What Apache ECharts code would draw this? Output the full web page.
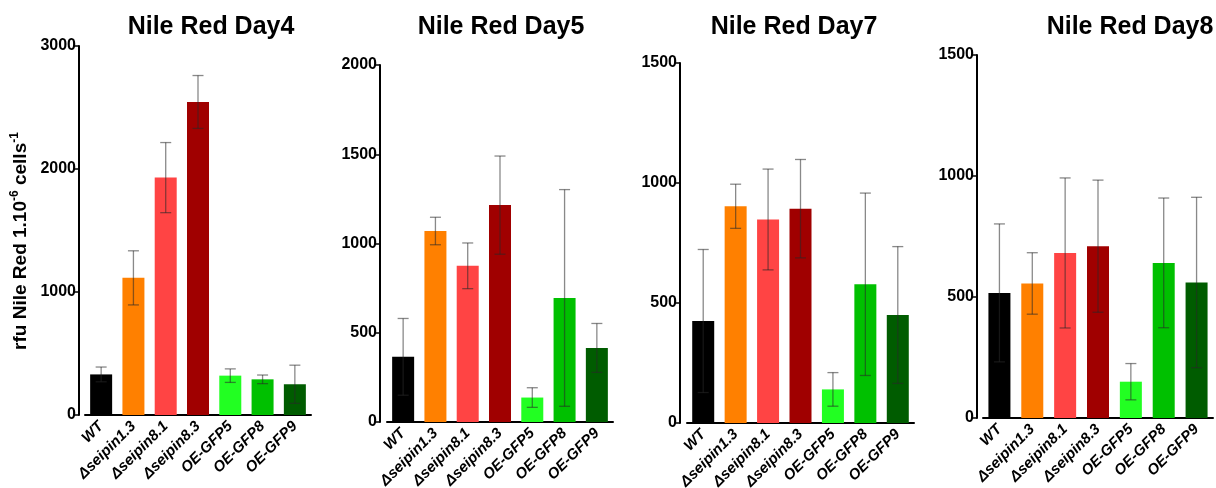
<!DOCTYPE html>
<html>
<head>
<meta charset="utf-8">
<script src="https://cdn.jsdelivr.net/npm/echarts@6/dist/echarts.min.js"></script>
<style>
  html, body { margin: 0; padding: 0; background: #fff; }
  #chart { width: 1216px; height: 488px; }
</style>
</head>
<body>
<div id="chart"></div>
<script>
const categories = ["WT", "Δseipin1.3", "Δseipin8.1", "Δseipin8.3", "OE-GFP5", "OE-GFP8", "OE-GFP9"];
const barColors = ["#000000", "#FF8000", "#FF4444", "#A00000", "#22FF22", "#00C000", "#005C00"];

const titles = ["Nile Red Day4", "Nile Red Day5", "Nile Red Day7", "Nile Red Day8"];
const yMax = [3000, 2000, 1500, 1500];
const yInterval = [1000, 500, 500, 500];

const day4Mean = [330, 1115, 1930, 2545, 320, 290, 250];
const day4Err = [60, 220, 285, 215, 55, 35, 155];
const day5Mean = [365, 1070, 875, 1215, 137, 695, 415];
const day5Err = [215, 77, 128, 275, 55, 607, 137];
const day7Mean = [425, 903, 848, 893, 140, 578, 450];
const day7Err = [298, 92, 210, 205, 70, 380, 285];
const day8Mean = [517, 556, 682, 710, 150, 641, 560];
const day8Err = [285, 127, 310, 273, 75, 268, 352];

const means = [day4Mean, day5Mean, day7Mean, day8Mean];
const errs = [day4Err, day5Err, day7Err, day8Err];

// panel layout
const panels = [
  { left: 85, width: 226, top: 46, height: 369, offset: 6, titleX: 211 },
  { left: 387, width: 226, top: 65, height: 357, offset: 7, titleX: 501 },
  { left: 687, width: 227, top: 63, height: 360, offset: 7, titleX: 794 },
  { left: 983, width: 230, top: 55, height: 363, offset: 6, titleX: 1130 }
];

const font = "Liberation Sans, Arial, sans-serif";

function errorBarRender(params, api) {
  const x = api.value(0);
  const m = api.value(1);
  const e = api.value(2);
  const top = api.coord([x, m + e]);
  const bot = api.coord([x, m - e]);
  const hw = 5.5;
  const style = { stroke: "rgba(40,40,40,0.55)", lineWidth: 1.3 };
  return {
    type: "group",
    children: [
      { type: "line", shape: { x1: top[0], y1: top[1], x2: bot[0], y2: bot[1] }, style: style },
      { type: "line", shape: { x1: top[0] - hw, y1: top[1], x2: top[0] + hw, y2: top[1] }, style: style },
      { type: "line", shape: { x1: bot[0] - hw, y1: bot[1], x2: bot[0] + hw, y2: bot[1] }, style: style }
    ]
  };
}

let option = {
  backgroundColor: "#ffffff",
  animation: false,
  grid: [],
  xAxis: [],
  yAxis: [],
  series: [],
  graphic: [
    {
      type: "text",
      x: 21,
      y: 241,
      rotation: Math.PI / 2,
      style: {
        text: "{a|rfu Nile Red 1.10}{b|-6}{a| cells}{b|-1}",
        align: "center",
        verticalAlign: "middle",
        fill: "#000",
        rich: {
          a: { fontSize: 19, fontWeight: "bold", fontFamily: font, fill: "#000", lineHeight: 24 },
          b: { fontSize: 12, fontWeight: "bold", fontFamily: font, fill: "#000", verticalAlign: "top", lineHeight: 24 }
        }
      }
    }
  ]
};

panels.forEach((p, k) => {
  option.graphic.push({
    type: "text",
    x: p.titleX,
    y: 27,
    style: {
      text: titles[k],
      align: "center",
      verticalAlign: "middle",
      fill: "#000",
      fontSize: 25,
      fontWeight: "bold",
      fontFamily: font
    }
  });
  option.grid.push({
    left: p.left,
    width: p.width,
    top: p.top,
    height: p.height,
    containLabel: false,
    outerBoundsMode: "none"
  });
  option.xAxis.push({
    type: "category",
    gridIndex: k,
    data: categories,
    axisLine: { lineStyle: { color: "#000", width: 2 } },
    axisTick: { alignWithLabel: true, length: 5, lineStyle: { color: "#000", width: 1.5 } },
    axisLabel: {
      interval: 0,
      rotate: 45,
      margin: 9,
      color: "#000",
      fontSize: 15,
      fontWeight: "bold",
      fontStyle: "italic",
      fontFamily: font
    }
  });
  option.yAxis.push({
    type: "value",
    gridIndex: k,
    min: 0,
    max: yMax[k],
    interval: yInterval[k],
    offset: p.offset,
    axisLine: { show: true, lineStyle: { color: "#000", width: 2 } },
    axisTick: { show: true, length: 5, lineStyle: { color: "#000", width: 1.5 } },
    splitLine: { show: false },
    axisLabel: {
      color: "#000",
      fontSize: 16,
      fontWeight: "bold",
      fontFamily: font,
      margin: 3,
      formatter: v => String(v)
    }
  });
  option.series.push({
    type: "bar",
    xAxisIndex: k,
    yAxisIndex: k,
    barWidth: 22,
    data: means[k].map((v, i) => ({ value: v, itemStyle: { color: barColors[i] } }))
  });
  option.series.push({
    type: "custom",
    xAxisIndex: k,
    yAxisIndex: k,
    z: 5,
    renderItem: errorBarRender,
    data: means[k].map((v, i) => [i, v, errs[k][i]])
  });
});

const myChart = echarts.init(document.getElementById("chart"));
myChart.setOption(option);
</script>
</body>
</html>
